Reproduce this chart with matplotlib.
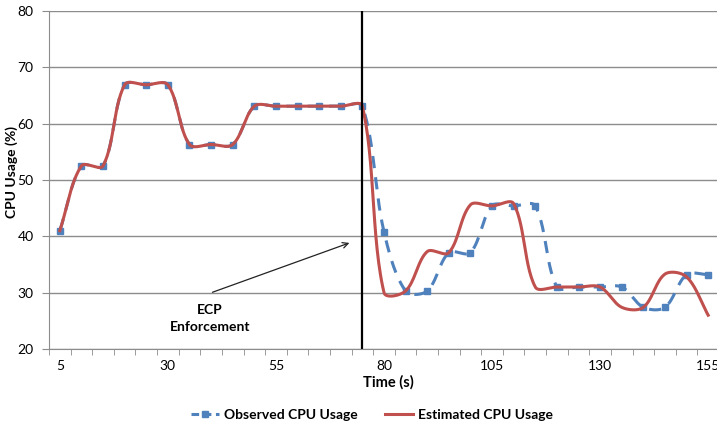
import numpy as np
import matplotlib.pyplot as plt
from matplotlib.lines import Line2D

# data
time_s = list(range(5, 160, 5))
observed = [41.0, 52.5, 52.5, 66.9, 66.9, 66.9, 56.3, 56.3, 56.3, 63.1,
            63.1, 63.1, 63.1, 63.1, 63.1, 40.8, 30.3, 30.3, 37.1, 37.1,
            45.4, 45.4, 45.4, 31.0, 31.0, 31.0, 31.0, 27.4, 27.4, 33.2, 33.2]
estimated = [41.0, 52.5, 52.5, 66.9, 66.9, 66.9, 56.3, 56.3, 56.3, 63.1,
             63.1, 63.1, 63.1, 63.1, 63.1, 30.0, 30.3, 37.3, 37.1, 45.6,
             45.4, 45.8, 31.0, 31.0, 31.0, 31.0, 27.4, 27.4, 33.3, 32.8, 26.0]
tick_labels = [5, 30, 55, 80, 105, 130, 155]
enforcement_time = 75

BLUE = '#4F81BD'
RED = '#C0504D'
GRID = '#8C8C8C'


def smooth(x, y, n=30, sx=4.32, sy=5.63):
    # smoothed line like Excel's: bezier through the points, tangents
    # split by the lengths of the neighbouring segments (in pixel scale)
    p = np.column_stack([x, y]).astype(float)
    q = p * [sx, sy]
    k = len(p)
    seg = np.hypot(*np.diff(q, axis=0).T)
    xs, ys = [], []
    t = np.linspace(0, 1, n)[:, None]
    for i in range(k - 1):
        p1, p2 = p[i], p[i + 1]
        if i > 0:
            w = seg[i] / (seg[i - 1] + seg[i])
            c1 = p1 + (p2 - p[i - 1]) * w / 3
        else:
            c1 = p1 + (p2 - p1) / 3
        if i < k - 2:
            w = seg[i] / (seg[i] + seg[i + 1])
            c2 = p2 - (p[i + 2] - p1) * w / 3
        else:
            c2 = p2 - (p2 - p1) / 3
        b = ((1 - t) ** 3) * p1 + 3 * ((1 - t) ** 2) * t * c1 \
            + 3 * (1 - t) * t ** 2 * c2 + t ** 3 * p2
        xs.extend(b[:, 0])
        ys.extend(b[:, 1])
    return np.array(xs), np.array(ys)


plt.rcParams['font.family'] = ['Lato', 'DejaVu Sans']

fig = plt.figure(figsize=(7.17, 4.25), dpi=100)
ax = fig.add_axes([49 / 717, 1 - 349 / 425, 670 / 717, 338 / 425])

ax.set_xlim(2.5, 157.5)
ax.set_ylim(20, 80)
ax.set_yticks(range(20, 81, 10))
ax.grid(axis='y', color=GRID, lw=1)
ax.set_axisbelow(True)

ox, oy = smooth(time_s, observed)
ax.plot(ox, oy, color=BLUE, lw=2.2, dashes=(4, 3))
ax.plot(time_s, observed, ls='none', marker='s', ms=4.5, color=BLUE)
ex, ey = smooth(time_s, estimated)
ax.plot(ex, ey, color=RED, lw=2.2)

ax.axvline(enforcement_time, color='black', lw=1.6)
ax.annotate('', xy=(72.6, 39.0), xytext=(39.7, 29.9),
            arrowprops=dict(arrowstyle='->', color='#222222', lw=0.9))
ax.text(39.7, 28.0, 'ECP\nEnforcement', ha='center', va='top',
        fontsize=10, fontweight='bold', linespacing=1.5)

for s in ['top', 'right']:
    ax.spines[s].set_visible(False)
for s in ['left', 'bottom']:
    ax.spines[s].set_color(GRID)

ax.set_xticks(np.arange(2.5, 158, 5), minor=True)
ax.set_xticks(tick_labels)
ax.tick_params(axis='x', which='major', length=0, pad=8, labelsize=10)
ax.tick_params(axis='x', which='minor', length=4, color=GRID, direction='out')
ax.tick_params(axis='y', length=5, color=GRID, labelsize=10, pad=6)

fig.text(388 / 717, 1 - 382 / 425, 'Time (s)', ha='center', va='center',
         fontsize=10.5, fontweight='bold')
fig.text(12 / 717, 1 - 172 / 425, 'CPU Usage (%)', ha='center', va='center',
         rotation=90, fontsize=10, fontweight='bold')

handles = [
    Line2D([], [], color=BLUE, lw=2.2, dashes=(2.5, 1.5), marker='s', ms=4.5),
    Line2D([], [], color=RED, lw=2.2),
]
fig.legend(handles, ['Observed CPU Usage', 'Estimated CPU Usage'],
           loc='center', bbox_to_anchor=(372 / 717, 1 - 415 / 425), ncol=2,
           frameon=False, prop={'weight': 'bold', 'size': 10},
           handlelength=2.0, handletextpad=0.35, columnspacing=2.0)

fig.savefig('out.png', dpi=100)
